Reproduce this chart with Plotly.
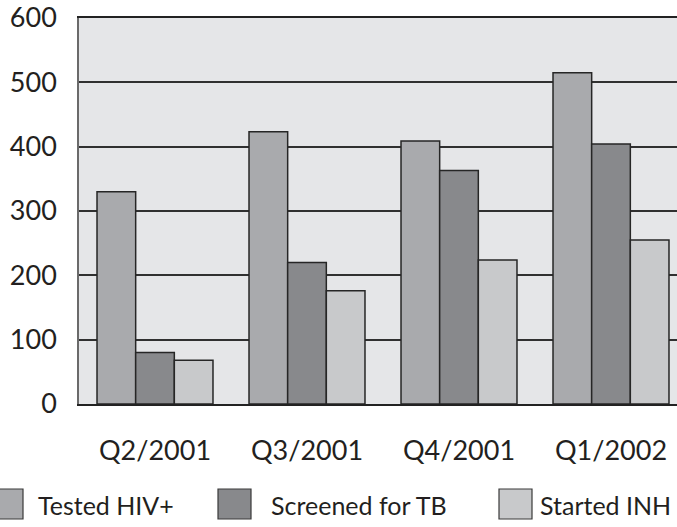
import plotly.graph_objects as go

categories = ["Q2/2001", "Q3/2001", "Q4/2001", "Q1/2002"]
tested_hiv = [330, 423, 409, 515]
screened_tb = [80, 220, 363, 404]
started_inh = [68, 176, 224, 255]
series_names = ["Tested HIV+", "Screened for TB", "Started INH"]
y_ticks = [0, 100, 200, 300, 400, 500, 600]

colors = ["#a9aaad", "#88898c", "#c8c9cb"]
W, H = 677, 527
L, R, T, B = 79, 0, 18, 123
FONT = "Lato, 'Open Sans', sans-serif"

fig = go.Figure()
for name, vals, col in zip(series_names, [tested_hiv, screened_tb, started_inh], colors):
    fig.add_trace(go.Bar(
        x=categories, y=vals, name=name,
        marker=dict(color=col, line=dict(color="#262626", width=1.5)),
        showlegend=False,
    ))

pw = W - L - R
ph = H - T - B

def px_x(p):
    return (p - L) / pw

def px_y(p):
    return (H - B - p) / ph

# manual legend (clipped at both edges like the reference)
sq = [(-9, 23), (218, 251), (499, 532)]
tx = [36, 269, 538]
for (x0, x1), t, col, name in zip(sq, tx, colors, series_names):
    fig.add_shape(type="rect", xref="paper", yref="paper",
                  x0=px_x(x0), x1=px_x(x1), y0=px_y(519), y1=px_y(489),
                  fillcolor=col, line=dict(color="#3a3a3a", width=1.2))
    fig.add_annotation(xref="paper", yref="paper", x=px_x(t), y=px_y(505),
                       text=name, showarrow=False, xanchor="left", yanchor="middle",
                       font=dict(size=25, color="#231f20", family=FONT))

fig.update_layout(
    width=W, height=H,
    margin=dict(l=L, r=R, t=T, b=B, pad=0),
    paper_bgcolor="white",
    plot_bgcolor="#e5e6e8",
    barmode="group",
    bargap=0.237,
    bargroupgap=0,
    font=dict(family=FONT, color="#231f20"),
    xaxis=dict(
        range=[-0.5, 3.5 - 10 / 152],
        showgrid=False, showline=True, mirror=True,
        linecolor="#222222", linewidth=1.5,
        ticks="", tickfont=dict(size=27),
        ticklabelstandoff=22,
        fixedrange=True,
    ),
    yaxis=dict(
        range=[0, 600], tickvals=y_ticks,
        showgrid=True, gridcolor="#303030", gridwidth=1.6,
        showline=True, linecolor="#6a6a6a", linewidth=1.5,
        zeroline=False,
        ticks="", tickfont=dict(size=27),
        ticklabelstandoff=15,
        fixedrange=True,
    ),
)

fig.write_html(
    "out.html",
    config={"displayModeBar": False},
    post_script="document.body.style.margin='0';document.body.style.overflow='hidden';",
)
